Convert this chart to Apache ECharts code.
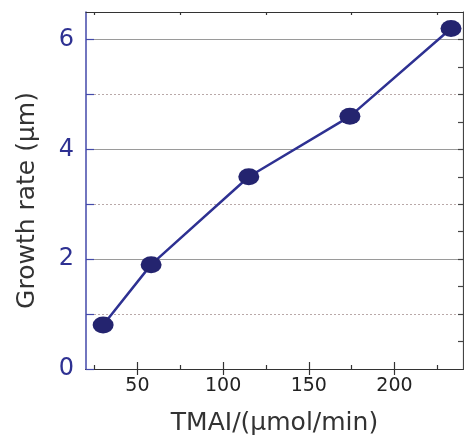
<!DOCTYPE html>
<html>
<head>
<meta charset="utf-8">
<script src="https://cdn.jsdelivr.net/npm/echarts@6/dist/echarts.min.js"></script>
<style>html,body{margin:0;padding:0;background:#fff}#c{width:464px;height:441px}</style>
</head>
<body>
<div id="c"></div>
<script>
const tmaiFlow = [30, 58, 115, 174, 233];
const growthRate = [0.8, 1.9, 3.5, 4.6, 6.2];
const xLabelTicks = [50, 100, 150, 200];
const xMinorTicks = [25, 75, 125, 175, 225];
const yMajorTicks = [0, 2, 4, 6];
const yMinorTicks = [1, 3, 5];
const yRightTicks = [0.5, 1, 1.5, 2, 2.5, 3, 3.5, 4, 4.5, 5, 5.5, 6];
const xTitle = 'TMAI/(µmol/min)';
const yTitle = 'Growth rate (µm)';

const FONT = 'DejaVu Sans';
const chart = echarts.init(document.getElementById('c'), null, {renderer: 'canvas'});

function xAx(pos, ticks, len, extra) {
  return Object.assign({
    type: 'value', position: pos, min: 20, max: 240,
    axisLine: {show: true, lineStyle: {color: '#333', width: 1.2}},
    axisTick: {show: true, inside: true, length: len, customValues: ticks, lineStyle: {color: '#333', width: 1.2}},
    axisLabel: {show: false},
    splitLine: {show: false}
  }, extra || {});
}

chart.setOption({
  animation: false,
  grid: {left: 86, right: 1, top: 12, bottom: 68},
  xAxis: [
    xAx('bottom', xLabelTicks, 7, {
      name: xTitle, nameLocation: 'middle', nameGap: 42,
      nameTextStyle: {fontFamily: FONT, fontSize: 25, color: '#333'},
      axisLabel: {show: true, customValues: xLabelTicks, margin: 8,
        fontFamily: FONT, fontSize: 19, color: '#222'}
    }),
    xAx('bottom', xMinorTicks, 4),
    xAx('top', xLabelTicks, 6),
    xAx('top', xMinorTicks, 3)
  ],
  yAxis: [
    {
      type: 'value', position: 'left', min: 0, max: 6.5,
      name: yTitle, nameLocation: 'middle', nameGap: 46,
      nameTextStyle: {fontFamily: FONT, fontSize: 25, color: '#333', padding: [0, 20, 0, 0]},
      axisLine: {show: true, lineStyle: {color: '#4349aa', width: 1.5}},
      axisTick: {show: true, inside: true, length: 8, customValues: yMajorTicks, lineStyle: {color: '#4349aa', width: 1.2}},
      axisLabel: {show: true, customValues: yMajorTicks, margin: 12, fontFamily: FONT, fontSize: 24, color: '#2e3192'},
      splitLine: {show: true, lineStyle: {color: '#9a9a9a', width: 1.2, type: 'solid'}}
    },
    {
      type: 'value', position: 'right', min: 0, max: 6.5,
      axisLine: {show: true, lineStyle: {color: '#444', width: 1.2}},
      axisTick: {show: true, inside: true, length: 5, customValues: yRightTicks, lineStyle: {color: '#444', width: 1.2}},
      axisLabel: {show: false},
      splitLine: {show: false}
    },
    {
      type: 'value', position: 'left', min: 0, max: 6.5,
      axisLine: {show: false},
      axisTick: {show: true, inside: true, length: 8, customValues: yMinorTicks, lineStyle: {color: '#4349aa', width: 1.2}},
      axisLabel: {show: false},
      splitLine: {show: true, lineStyle: {color: '#b9a9a9', width: 1, type: [2, 2]}}
    }
  ],
  series: [{
    type: 'line',
    xAxisIndex: 0, yAxisIndex: 0,
    data: tmaiFlow.map((x, i) => [x, growthRate[i]]),
    symbol: 'circle',
    symbolSize: [21, 17],
    lineStyle: {color: '#2e3192', width: 2.5},
    itemStyle: {color: '#24246f', borderWidth: 0},
    z: 10
  }]
});
</script>
</body>
</html>
